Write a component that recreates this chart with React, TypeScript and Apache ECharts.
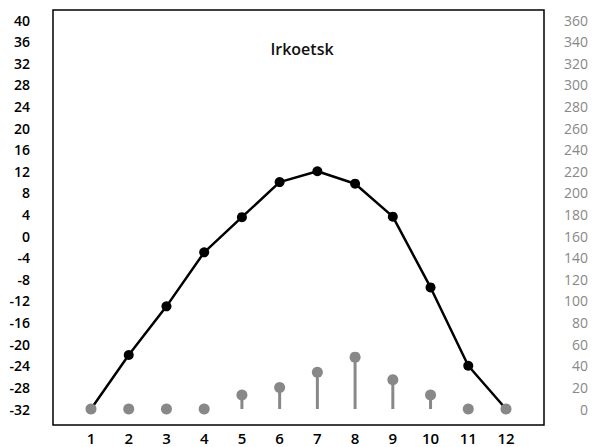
import React, { useEffect, useRef } from "react";
import * as echarts from "echarts";

const months = [1, 2, 3, 4, 5, 6, 7, 8, 9, 10, 11, 12];
const temperature = [-32, -22, -13, -3, 3.5, 10, 12, 9.7, 3.6, -9.5, -24, -32];
const precipitation = [0, 0, 0, 0, 13, 20, 34, 48, 27, 13, 0, 0];
const title = "Irkoetsk";

export default function App() {
  const ref = useRef<HTMLDivElement>(null);
  useEffect(() => {
    const chart = echarts.init(ref.current!, null, { renderer: "svg" });
    const font = "'Open Sans', 'Noto Sans', sans-serif";
    chart.setOption({
      animation: false,
      backgroundColor: "#fff",
      title: {
        text: title,
        left: 297,
        top: 36,
        textAlign: "center",
        textStyle: { fontFamily: font, fontSize: 16, fontWeight: 600, color: "#111" },
      },
      grid: { left: 91, right: 95, top: 20, bottom: 38 },
      xAxis: {
        type: "value",
        min: 1,
        max: 12,
        interval: 1,
        axisLine: { show: false },
        axisTick: { show: false },
        splitLine: { show: false },
        axisLabel: { margin: 21, color: "#000", fontFamily: font, fontSize: 15, fontWeight: 600 },
      },
      yAxis: [
        {
          type: "value",
          min: -32,
          max: 40,
          interval: 4,
          axisLine: { show: false },
          axisTick: { show: false },
          splitLine: { show: false },
          axisLabel: { margin: 61, align: "right", color: "#000", fontFamily: font, fontSize: 14, fontWeight: 600 },
        },
        {
          type: "value",
          min: 0,
          max: 360,
          interval: 20,
          position: "right",
          axisLine: { show: false },
          axisTick: { show: false },
          splitLine: { show: false },
          axisLabel: { margin: 82, align: "right", color: "#888", fontFamily: font, fontSize: 14 },
        },
      ],
      graphic: [
        {
          type: "rect",
          shape: { x: 53, y: 10, width: 491, height: 415 },
          style: { fill: "none", stroke: "#000", lineWidth: 1.5 },
          z: 1,
        },
      ],
      series: [
        {
          type: "line",
          data: months.map((m, i) => [m, temperature[i]]),
          yAxisIndex: 0,
          symbol: "circle",
          symbolSize: 10,
          showSymbol: true,
          itemStyle: { color: "#000" },
          lineStyle: { color: "#000", width: 2.5 },
          z: 2,
        },
        {
          type: "bar",
          data: months.map((m, i) => [m, precipitation[i]]),
          yAxisIndex: 1,
          barWidth: 3,
          itemStyle: { color: "#888" },
          z: 3,
        },
        {
          type: "scatter",
          data: months.map((m, i) => [m, precipitation[i]]),
          yAxisIndex: 1,
          symbol: "circle",
          symbolSize: 11,
          itemStyle: { color: "#888", opacity: 1 },
          z: 4,
        },
      ],
    });
    return () => chart.dispose();
  }, []);
  return <div ref={ref} style={{ width: 601, height: 447, position: "absolute", left: 0, top: 0 }} />;
}
